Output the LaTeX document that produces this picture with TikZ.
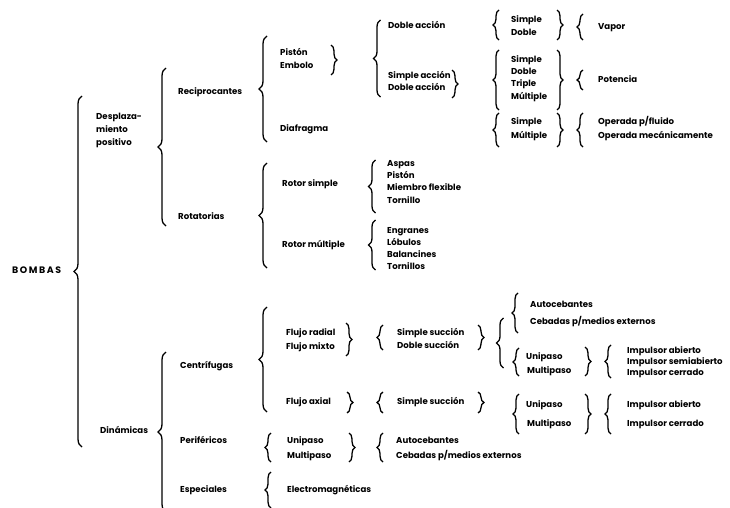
\documentclass[tikz,border=0pt]{standalone}
\usepackage{fontspec}
\setmainfont{Poppins}
\usetikzlibrary{decorations.pathreplacing}
\newcommand{\lbrc}[4][7]{\draw[brc=#1pt] ({#2+#1/2},#4) -- ({#2+#1/2},#3);}
\newcommand{\rbrc}[4][7]{\draw[brc=#1pt] ({#2-#1/2},#3) -- ({#2-#1/2},#4);}
\begin{document}
\begin{tikzpicture}[x=1pt,y=-1pt,
  lbl/.style={anchor=west,inner sep=0pt,font=\fontsize{8.6}{12}\selectfont\bfseries,text height=6pt,text depth=1.5pt},
  lblm/.style={anchor=west,inner sep=0pt,align=left,font=\fontsize{8.6}{13}\selectfont\bfseries},
  brc/.style={decorate,decoration={brace,amplitude=#1},line width=1.3pt}]
\useasboundingbox (0,0) rectangle (730,508);
% level 0
\node[lbl,font=\fontsize{9.4}{12}\selectfont\bfseries] (bombas) at (12,271) {B\,O\,M\,B\,A\,S};
\lbrc[8]{78}{96}{447}
\node[lblm] (desp) at (96,130) {Desplaza-\\miento\\positivo};
\node[lbl] (din) at (100,431) {Dinámicas};
% level 1
\lbrc[8]{162}{68}{226}
\node[lbl] (recip) at (178,92) {Reciprocantes};
\node[lbl] (rotat) at (178,217) {Rotatorias};
\lbrc[8]{162}{352}{512}
\node[lbl] (centr) at (180,366) {Centrífugas};
\node[lbl] (perif) at (180,441) {Periféricos};
\node[lbl] (espec) at (180,490) {Especiales};
% reciprocantes
\lbrc[8]{263}{36}{142}
\node[lbl] (piston) at (280,53) {Pistón};
\node[lbl] (embolo) at (280,66) {Embolo};
\rbrc[6]{334}{45}{75}
\lbrc[7]{377}{20}{97}
\node[lbl] (da1) at (388,26) {Doble acción};
\node[lbl] (sa) at (388,76) {Simple acción};
\node[lbl] (da2) at (388,88) {Doble acción};
\rbrc[6]{455}{70}{98}
\node[lbl] (diaf) at (280,129) {Diafragma};
\lbrc[6]{496}{10}{40}
\node[lbl] (s1) at (511,20) {Simple};
\node[lbl] (d1) at (511,33) {Doble};
\rbrc[6]{560}{10}{40}
\lbrc[6]{580}{14}{40}
\node[lbl] (vapor) at (598,27) {Vapor};
\lbrc[6]{496}{50}{110}
\node[lbl] (s2) at (511,60) {Simple};
\node[lbl] (d2) at (511,72) {Doble};
\node[lbl] (t2) at (511,84) {Triple};
\node[lbl] (m2) at (511,97) {Múltiple};
\rbrc[6]{560}{50}{110}
\lbrc[6]{580}{70}{90}
\node[lbl] (pot) at (598,80) {Potencia};
\lbrc[6]{496}{113}{147}
\node[lbl] (s3) at (511,122) {Simple};
\node[lbl] (m3) at (511,136) {Múltiple};
\rbrc[6]{560}{113}{147}
\lbrc[6]{580}{113}{147}
\node[lbl] (opf) at (598,122) {Operada p/fluido};
\node[lbl] (opm) at (598,136) {Operada mecánicamente};
% rotatorias
\lbrc[8]{263}{163}{268}
\node[lbl] (rs) at (282,184) {Rotor simple};
\lbrc[7]{372}{160}{213}
\node[lbl] (aspas) at (387,164) {Aspas};
\node[lbl] (pist2) at (387,176) {Pistón};
\node[lbl] (miem) at (387,188) {Miembro flexible};
\node[lbl] (torn) at (387,201) {Tornillo};
\node[lbl] (rm) at (282,245) {Rotor múltiple};
\lbrc[7]{372}{220}{270}
\node[lbl] (engr) at (387,231) {Engranes};
\node[lbl] (lob) at (387,243) {Lóbulos};
\node[lbl] (bal) at (387,255) {Balancines};
\node[lbl] (torns) at (387,267) {Tornillos};
% centrifugas
\lbrc[8]{263}{307}{412}
\node[lbl] (frad) at (286,333) {Flujo radial};
\node[lbl] (fmix) at (286,347) {Flujo mixto};
\rbrc[6]{349}{323}{356}
\lbrc[6]{380}{325}{350}
\node[lbl] (ss1) at (397,333) {Simple succión};
\node[lbl] (ds1) at (397,346) {Doble succión};
\rbrc[6]{481}{325}{350}
\lbrc[7]{500}{318}{368}
\lbrc[6]{515}{293}{333}
\node[lbl] (auto1) at (530,305) {Autocebantes};
\node[lbl] (ceb1) at (530,322) {Cebadas p/medios externos};
\lbrc[6]{516}{348}{376}
\node[lbl] (uni1) at (526,357) {Unipaso};
\node[lbl] (mul1) at (527,371) {Multipaso};
\rbrc[6]{588}{347}{376}
\lbrc[6]{608}{345}{378}
\node[lbl] (ia1) at (627,351) {Impulsor abierto};
\node[lbl] (isa1) at (627,362) {Impulsor semiabierto};
\node[lbl] (ic1) at (627,373) {Impulsor cerrado};
\node[lbl] (fax) at (286,402) {Flujo axial};
\rbrc[6]{350}{392}{413}
\lbrc[6]{380}{392}{413}
\node[lbl] (ss2) at (397,402) {Simple succión};
\rbrc[6]{481}{392}{413}
\lbrc[6]{516}{394}{434}
\node[lbl] (uni2) at (526,405) {Unipaso};
\node[lbl] (mul2) at (527,424) {Multipaso};
\rbrc[6]{588}{394}{434}
\lbrc[6]{608}{394}{434}
\node[lbl] (ia2) at (627,405) {Impulsor abierto};
\node[lbl] (ic2) at (627,424) {Impulsor cerrado};
% perifericos
\lbrc[6]{268}{433}{462}
\node[lbl] (uni3) at (287,441) {Unipaso};
\node[lbl] (mul3) at (287,456) {Multipaso};
\rbrc[6]{352}{433}{462}
\lbrc[6]{380}{433}{462}
\node[lbl] (auto2) at (396,441) {Autocebantes};
\node[lbl] (ceb2) at (396,456) {Cebadas p/medios externos};
% especiales
\lbrc[6]{268}{472}{508}
\node[lbl] (elec) at (287,490) {Electromagnéticas};
\end{tikzpicture}
\end{document}
